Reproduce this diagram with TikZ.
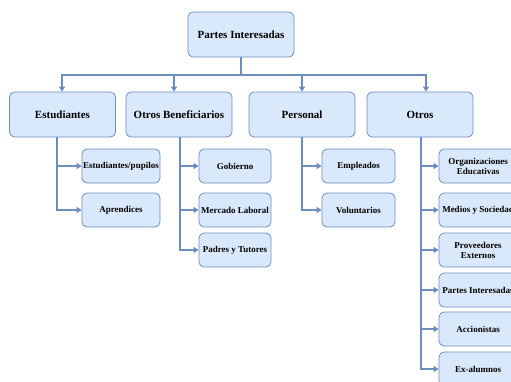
\documentclass[tikz,border=0pt]{standalone}
\usepackage{fontspec}
\setmainfont{Liberation Serif}
\usetikzlibrary{arrows.meta}
\definecolor{boxfill}{HTML}{DAE8FC}
\definecolor{boxline}{HTML}{6C8EBF}
\tikzset{
  box/.style={draw=boxline, fill=boxfill, rounded corners=5pt, line width=0.8pt, inner sep=1pt, align=center, font=\bfseries},
  big/.style={box, minimum width=106pt, minimum height=45pt, font=\fontsize{11}{12}\selectfont\bfseries},
  small/.style={box, minimum height=34pt, font=\fontsize{9}{10}\selectfont\bfseries},
  conn/.style={draw=boxline, line width=1.2pt, -{Triangle[length=5pt,width=6pt]}},
}
\begin{document}
\begin{tikzpicture}[x=1pt,y=-1pt]
\useasboundingbox[clip] (0,0) rectangle (511,381);
\fill[white] (0,0) rectangle (511,381);
% top
\node[big] (top) at (241,34.5) {Partes Interesadas};
% level 1
\node[big] (est) at (62.5,114.5) {Estudiantes};
\node[big] (ob) at (179,114.5) {Otros Beneficiarios};
\node[big] (per) at (302,114.5) {Personal};
\node[big] (otr) at (420,114.5) {Otros};
% bus
\coordinate (bus) at (241,75);
\draw[conn] (top.south) -- (bus) -| ([xshift=-0.5pt]est.north);
\draw[conn] (bus) -| ([xshift=-5pt]ob.north);
\draw[conn] (bus) -| (per.north);
\draw[conn] (bus) -| ([xshift=6pt]otr.north);
% Estudiantes children
\node[small, minimum width=78pt] (e1) at (121,166) {Estudiantes/pupilos};
\node[small, minimum width=78pt] (e2) at (121,210) {Aprendices};
\draw[conn] ([xshift=-5.5pt]est.south) |- (e1.west);
\draw[conn] ([xshift=-5.5pt]est.south) |- (e2.west);
% Otros Beneficiarios children
\node[small, minimum width=72pt] (o1) at (235,166) {Gobierno};
\node[small, minimum width=72pt] (o2) at (235,210) {Mercado Laboral};
\node[small, minimum width=72pt] (o3) at (235,250) {Padres y Tutores};
\draw[conn] ([xshift=1pt]ob.south) |- (o1.west);
\draw[conn] ([xshift=1pt]ob.south) |- (o2.west);
\draw[conn] ([xshift=1pt]ob.south) |- (o3.west);
% Personal children
\node[small, minimum width=73pt] (p1) at (358.5,166) {Empleados};
\node[small, minimum width=73pt] (p2) at (358.5,210) {Voluntarios};
\draw[conn] (per.south) |- (p1.west);
\draw[conn] (per.south) |- (p2.west);
% Otros children
\node[small, minimum width=78pt] (r1) at (478,166) {Organizaciones\\Educativas};
\node[small, minimum width=78pt] (r2) at (478,210) {Medios y Sociedad};
\node[small, minimum width=78pt] (r3) at (478,250) {Proveedores\\Externos};
\node[small, minimum width=78pt] (r4) at (478,290) {Partes Interesadas};
\node[small, minimum width=78pt] (r5) at (478,329) {Accionistas};
\node[small, minimum width=78pt] (r6) at (478,369) {Ex-alumnos};
\foreach \n in {r1,r2,r3,r4,r5,r6}
  \draw[conn] ([xshift=1pt]otr.south) |- (\n.west);
\end{tikzpicture}
\end{document}
